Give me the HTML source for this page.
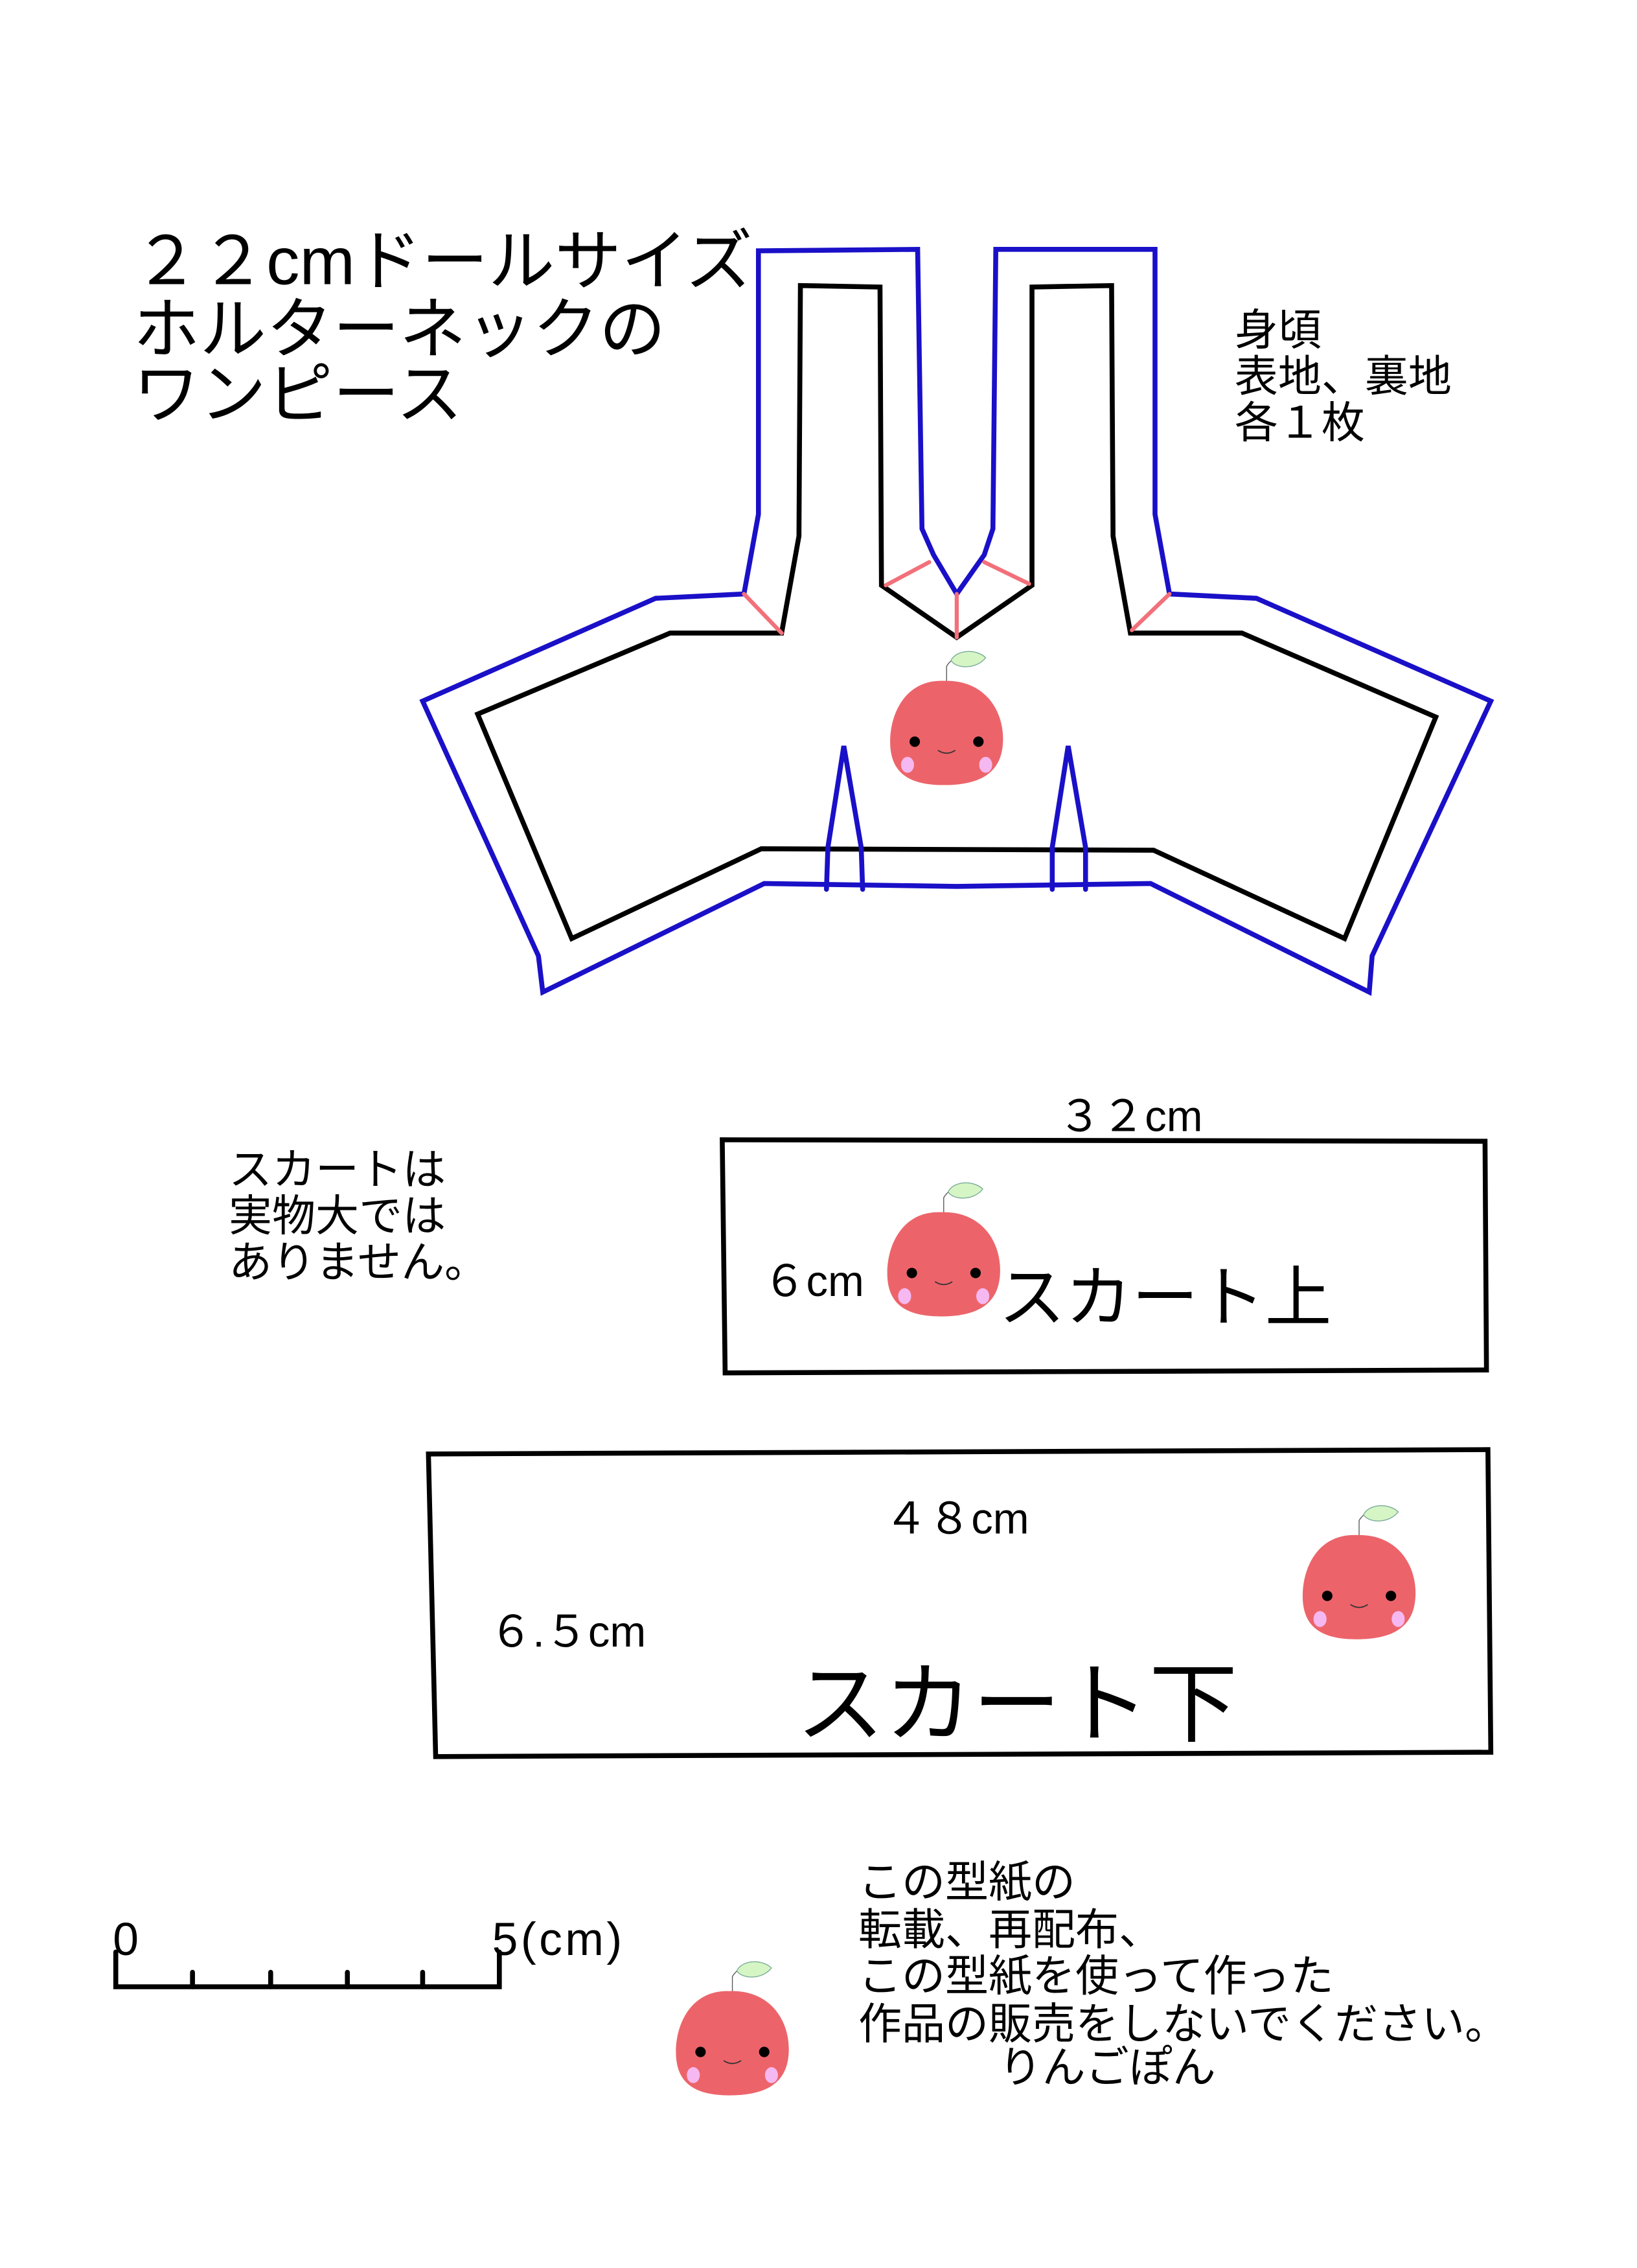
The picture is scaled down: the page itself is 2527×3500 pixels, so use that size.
<!DOCTYPE html>
<html><head><meta charset="utf-8"><style>
html,body{margin:0;padding:0;background:#fff}
svg{display:block}
text{font-family:"Liberation Sans","Noto Sans CJK JP",sans-serif;fill:#000}
</style></head><body>
<svg width="2527" height="3500" viewBox="0 0 1131 1566" xmlns="http://www.w3.org/2000/svg">
<defs>
<g id="apple">
<path d="M0,-34 L0,-46 C1,-48 3,-50 6,-52" stroke="#555" stroke-width="0.6" fill="none"/>
<path d="M3,-50 C7,-58 21,-58 27,-52 C21,-44 7,-44 3,-50Z" fill="#d6f5c4" stroke="#7a9" stroke-width="0.6"/>
<path d="M-2,-36 C-28,-37 -39,-14 -39,6 C-39,26 -28,36 -2,36 C28,36 39,24 39,4 C39,-16 26,-37 -2,-36Z" fill="#ec646a"/>
<circle cx="-22" cy="6" r="3.6" fill="#000"/><circle cx="22" cy="6" r="3.6" fill="#000"/>
<path d="M-6,12 Q0,16 6,12" stroke="#333" stroke-width="0.8" fill="none"/>
<ellipse cx="-27" cy="22" rx="4.5" ry="5.5" fill="#f6b8f0"/><ellipse cx="27" cy="22" rx="4.5" ry="5.5" fill="#f6b8f0"/>
</g>
</defs>
<g fill="none" stroke-linejoin="miter" stroke-linecap="round">
<path d="M524,173 L634,172 L637,365 L645,383 L661,410 L680,383 L686,365 L688,172 L798,172 L798,355 L808,410 L868,413 L1030,484 L948,660 L946,685 L795,610 L661,612 L528,610 L375,685 L372,660 L292,484 L453,413 L514,410 L524,355 Z" stroke="#1a10c8" stroke-width="3.4"/>
<path d="M553,197 L608,198 L609,404 L661,440 L713,404 L713,198 L768,197 L769,370 L781,437 L858,437 L992,495 L929,648 L797,587 L526,586 L395,648 L330,493 L463,437 L540,437 L552,370 Z" stroke="#000" stroke-width="3.4"/>
<g stroke="#f2707a" stroke-width="2.8">
<path d="M514,410 L540,437"/><path d="M808,410 L782,435"/><path d="M612,404 L642,388"/><path d="M680,388 L711,403"/><path d="M661,410 L661,440"/>
</g>
<g stroke="#1a10c8" stroke-width="3.4">
<path d="M571,614 L572,585 L583,515 L595,585 L596,614"/>
<path d="M727,614 L727,585 L738,515 L750,585 L750,614"/>
</g>
<g stroke="#000" stroke-width="3.4">
<path d="M499,787 L1026,788 L1027,946 L501,948 Z"/>
<path d="M296,1004 L1028,1001 L1030,1210 L301,1213 Z"/>
<path d="M80,1348 L80,1372 L345,1372 L345,1348"/>
<path d="M133,1362 V1372 M187,1362 V1372 M240,1362 V1372 M292,1362 V1372"/>
</g>
</g>
<use href="#apple" x="654" y="506"/>
<use href="#apple" x="652" y="873"/>
<use href="#apple" x="939" y="1096"/>
<use href="#apple" x="506" y="1411"/>
<g font-size="46">
<text x="92" y="196">２２cmドールサイズ</text>
<text x="92" y="243">ホルターネックの</text>
<text x="92" y="288">ワンピース</text>
</g>
<g font-size="30">
<text x="853" y="238">身頃</text>
<text x="853" y="270">表地、裏地</text>
<text x="853" y="302">各１枚</text>
<text x="158" y="818">スカートは</text>
<text x="158" y="850">実物大では</text>
<text x="158" y="882">ありません。</text>
<text x="731" y="781">３２cm</text>
<text x="527" y="895">６cm</text>
<text x="611" y="1059">４８cm</text>
<text x="338" y="1137">６.５cm</text>
<text x="78" y="1350" font-size="32">0</text>
<text x="340" y="1350" font-size="32" letter-spacing="2">5(cm)</text>
<text x="593" y="1310">この型紙の</text>
<text x="593" y="1343">転載、再配布、</text>
<text x="593" y="1375">この型紙を使って作った</text>
<text x="593" y="1408">作品の販売をしないでください。</text>
<text x="690" y="1438">りんごぽん</text>
</g>
<text x="690" y="912" font-size="46">スカート上</text>
<text x="550" y="1198" font-size="61">スカート下</text>
</svg>
</body></html>
